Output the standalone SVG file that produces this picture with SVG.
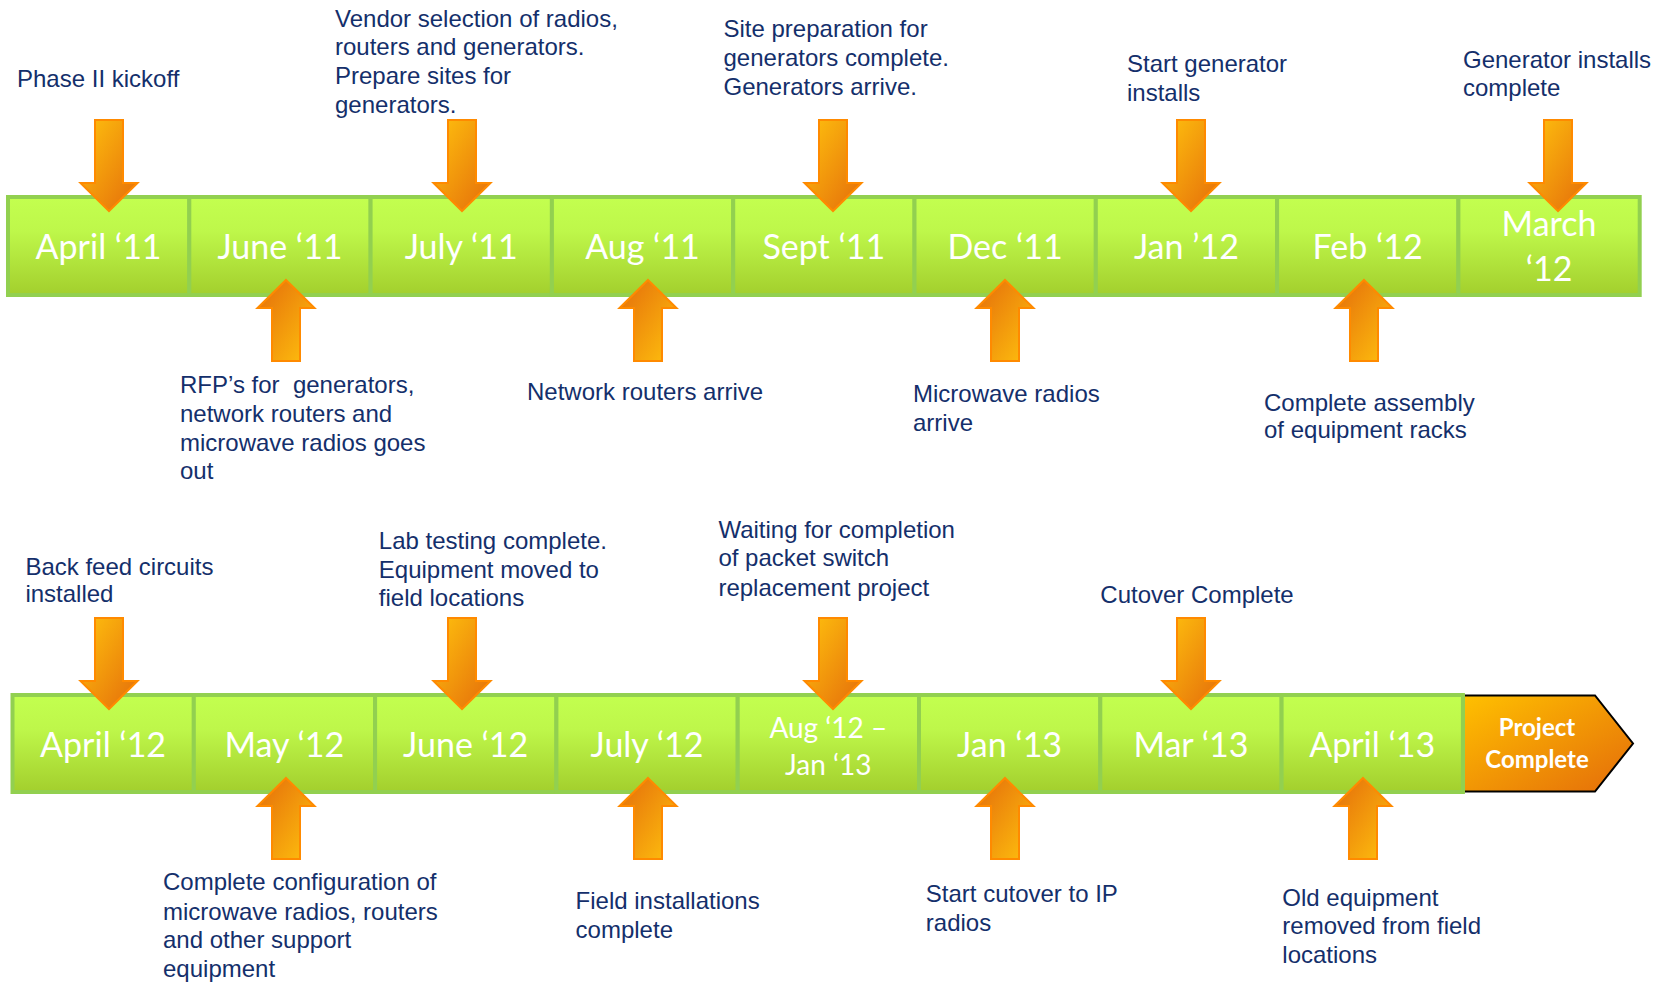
<svg xmlns="http://www.w3.org/2000/svg" width="1659" height="983" viewBox="0 0 1659 983">
<defs>
<linearGradient id="gCell" x1="0" y1="0" x2="0" y2="1">
<stop offset="0" stop-color="#C3FF4F"/>
<stop offset="0.35" stop-color="#BEF74A"/>
<stop offset="1" stop-color="#A3CF2D"/>
</linearGradient>
<linearGradient id="gDown" x1="0" y1="0" x2="1" y2="1">
<stop offset="0" stop-color="#FFC20E"/>
<stop offset="1" stop-color="#E46C0A"/>
</linearGradient>
<linearGradient id="gUp" x1="0" y1="0" x2="1" y2="1">
<stop offset="0" stop-color="#E46C0A"/>
<stop offset="1" stop-color="#FFC20E"/>
</linearGradient>
<linearGradient id="gEnd" x1="0" y1="0" x2="1" y2="1">
<stop offset="0" stop-color="#FFC000"/>
<stop offset="1" stop-color="#E46C0A"/>
</linearGradient>
<path id="down" d="M-14,0 H14 V63 H28.5 L0,91 L-28.5,63 H-14 Z"/>
<path id="up" d="M0,0 L28.5,28 H14 V81 H-14 V28 H-28.5 Z"/>
</defs>
<style>
.cell{fill:url(#gCell);stroke:#92D050;stroke-width:4}
.lbl{font-family:Lato,"Open Sans",sans-serif;font-size:34px;fill:#FFFFFF;text-anchor:middle}
.lbl2{font-family:Lato,"Open Sans",sans-serif;font-size:28px;fill:#FFFFFF;text-anchor:middle}
.end{font-family:Lato,"Open Sans",sans-serif;font-size:24px;font-weight:bold;fill:#FFFFFF;text-anchor:middle}
.note{font-family:"Liberation Sans",Arial,sans-serif;font-size:24px;fill:#142F6B}
.ad{fill:url(#gDown);stroke:#FF8A00;stroke-width:2}
.au{fill:url(#gUp);stroke:#FF8A00;stroke-width:2}
</style>

<g id="row1">
<g id="apr11"><rect class="cell" x="8" y="197" width="181.3" height="98"/><text class="lbl" x="98.6" y="259">April ‘11</text></g>
<g id="jun11"><rect class="cell" x="189.3" y="197" width="181.3" height="98"/><text class="lbl" x="280" y="259">June ‘11</text></g>
<g id="jul11"><rect class="cell" x="370.6" y="197" width="181.3" height="98"/><text class="lbl" x="461.2" y="259">July ‘11</text></g>
<g id="aug11"><rect class="cell" x="551.9" y="197" width="181.3" height="98"/><text class="lbl" x="642.5" y="259">Aug ‘11</text></g>
<g id="sep11"><rect class="cell" x="733.2" y="197" width="181.3" height="98"/><text class="lbl" x="823.8" y="259">Sept ‘11</text></g>
<g id="dec11"><rect class="cell" x="914.5" y="197" width="181.3" height="98"/><text class="lbl" x="1005.1" y="259">Dec ‘11</text></g>
<g id="jan12"><rect class="cell" x="1095.8" y="197" width="181.3" height="98"/><text class="lbl" x="1186.4" y="259">Jan ’12</text></g>
<g id="feb12"><rect class="cell" x="1277.1" y="197" width="181.3" height="98"/><text class="lbl" x="1367.7" y="259">Feb ‘12</text></g>
<g id="mar12"><rect class="cell" x="1458.4" y="197" width="181.3" height="98"/><text class="lbl" x="1549" y="236">March</text><text class="lbl" x="1549" y="281">‘12</text></g>
</g>

<g id="row2">
<g id="apr12"><rect class="cell" x="12.5" y="695" width="181.3" height="97"/><text class="lbl" x="103.1" y="757">April ‘12</text></g>
<g id="may12"><rect class="cell" x="193.8" y="695" width="181.3" height="97"/><text class="lbl" x="284.4" y="757">May ‘12</text></g>
<g id="jun12"><rect class="cell" x="375.1" y="695" width="181.3" height="97"/><text class="lbl" x="465.7" y="757">June ‘12</text></g>
<g id="jul12"><rect class="cell" x="556.4" y="695" width="181.3" height="97"/><text class="lbl" x="647" y="757">July ‘12</text></g>
<g id="aug12"><rect class="cell" x="737.7" y="695" width="181.3" height="97"/><text class="lbl2" x="828.3" y="738">Aug ‘12 –</text><text class="lbl2" x="828.3" y="775">Jan ‘13</text></g>
<g id="jan13"><rect class="cell" x="919" y="695" width="181.3" height="97"/><text class="lbl" x="1009.6" y="757">Jan ‘13</text></g>
<g id="mar13"><rect class="cell" x="1100.3" y="695" width="181.3" height="97"/><text class="lbl" x="1190.9" y="757">Mar ‘13</text></g>
<g id="apr13"><rect class="cell" x="1281.6" y="695" width="181.3" height="97"/><text class="lbl" x="1372.2" y="757">April ‘13</text></g>
<g id="done"><path d="M1464,695.5 H1595 L1633,743.5 L1595,791.5 H1464 Z" fill="url(#gEnd)" stroke="#000000" stroke-width="2"/><rect x="1461" y="694" width="4" height="99" fill="#92D050"/><text class="end" x="1537" y="736">Project</text><text class="end" x="1537" y="768">Complete</text></g>
</g>

<g id="connectors">
<use href="#down" class="ad" x="109" y="120"/>
<use href="#down" class="ad" x="462" y="120"/>
<use href="#down" class="ad" x="833" y="120"/>
<use href="#down" class="ad" x="1191" y="120"/>
<use href="#down" class="ad" x="1558" y="120"/>
<use href="#up" class="au" x="286" y="280"/>
<use href="#up" class="au" x="648" y="280"/>
<use href="#up" class="au" x="1005" y="280"/>
<use href="#up" class="au" x="1364" y="280"/>
<use href="#down" class="ad" x="109" y="618"/>
<use href="#down" class="ad" x="462" y="618"/>
<use href="#down" class="ad" x="833" y="618"/>
<use href="#down" class="ad" x="1191" y="618"/>
<use href="#up" class="au" x="286" y="778"/>
<use href="#up" class="au" x="648" y="778"/>
<use href="#up" class="au" x="1005" y="778"/>
<use href="#up" class="au" x="1363" y="778"/>
</g>

<g id="notes">
<g id="n1"><text class="note" x="17" y="87">Phase II kickoff</text></g>
<g id="n2"><text class="note" x="335" y="26.5">Vendor selection of radios,</text><text class="note" x="335" y="55.4">routers and generators.</text><text class="note" x="335" y="84.3">Prepare sites for</text><text class="note" x="335" y="113.2">generators.</text></g>
<g id="n3"><text class="note" x="723.5" y="37">Site preparation for</text><text class="note" x="723.5" y="66">generators complete.</text><text class="note" x="723.5" y="95">Generators arrive.</text></g>
<g id="n4"><text class="note" x="1127" y="72">Start generator</text><text class="note" x="1127" y="100.6">installs</text></g>
<g id="n5"><text class="note" x="1463" y="67.8">Generator installs</text><text class="note" x="1463" y="96.4">complete</text></g>
<g id="n6"><text class="note" x="180" y="392.6" xml:space="preserve">RFP’s for  generators,</text><text class="note" x="180" y="421.6">network routers and</text><text class="note" x="180" y="450.6">microwave radios goes</text><text class="note" x="180" y="479.4">out</text></g>
<g id="n7"><text class="note" x="527" y="400">Network routers arrive</text></g>
<g id="n8"><text class="note" x="913" y="402">Microwave radios</text><text class="note" x="913" y="430.7">arrive</text></g>
<g id="n9"><text class="note" x="1264" y="410.6">Complete assembly</text><text class="note" x="1264" y="438.1">of equipment racks</text></g>
<g id="n10"><text class="note" x="25.4" y="574.6">Back feed circuits</text><text class="note" x="25.4" y="602.1">installed</text></g>
<g id="n11"><text class="note" x="378.8" y="549.2">Lab testing complete.</text><text class="note" x="378.8" y="577.8">Equipment moved to</text><text class="note" x="378.8" y="606.3">field locations</text></g>
<g id="n12"><text class="note" x="718.4" y="537.6">Waiting for completion</text><text class="note" x="718.4" y="566.1">of packet switch</text><text class="note" x="718.4" y="595.7">replacement project</text></g>
<g id="n13"><text class="note" x="1100.3" y="603.2">Cutover Complete</text></g>
<g id="n14"><text class="note" x="163" y="890">Complete configuration of</text><text class="note" x="163" y="919.5">microwave radios, routers</text><text class="note" x="163" y="948.1">and other support</text><text class="note" x="163" y="976.6">equipment</text></g>
<g id="n15"><text class="note" x="575.6" y="908.9">Field installations</text><text class="note" x="575.6" y="937.5">complete</text></g>
<g id="n16"><text class="note" x="925.8" y="901.5">Start cutover to IP</text><text class="note" x="925.8" y="931.1">radios</text></g>
<g id="n17"><text class="note" x="1282.3" y="905.7">Old equipment</text><text class="note" x="1282.3" y="934.3">removed from field</text><text class="note" x="1282.3" y="962.9">locations</text></g>
</g>
</svg>
